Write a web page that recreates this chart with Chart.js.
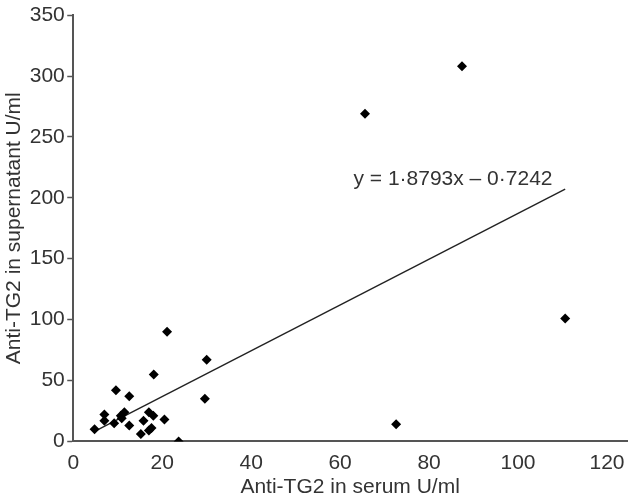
<!DOCTYPE html>
<html>
<head>
<meta charset="utf-8">
<script src="https://cdn.jsdelivr.net/npm/chart.js@4/dist/chart.umd.min.js"></script>
<style>
  html, body { margin: 0; padding: 0; background: #fff; }
  #wrap { width: 632px; height: 502px; }
</style>
</head>
<body>
<div id="wrap"><canvas id="c" width="632" height="502"></canvas></div>
<script>
// Anti-TG2 in serum (x) vs supernatant (y), U/ml
const serumValues = [87.4, 65.6, 110.6, 72.6, 23.7, 21.1, 30.0, 29.6, 18.1, 9.6, 12.6, 7.0, 7.0, 4.8, 9.2, 10.7, 11.5, 10.9, 12.6, 15.8, 17.0, 18.0, 15.2, 17.0, 17.6, 20.5];
const supernatantValues = [308, 269, 101, 14, 0, 90, 67, 35, 55, 42, 37, 22, 17, 10, 15, 21, 24, 19, 13, 17, 24, 21, 6, 9, 11, 18];
const xTickLabels = [0, 20, 40, 60, 80, 100, 120];
const yTickLabels = [0, 50, 100, 150, 200, 250, 300, 350];
const regressionSlope = 1.8793;
const regressionIntercept = -0.7242;
const equationText = 'y = 1\u00B78793x \u2013 0\u00B77242';

const points = serumValues.map((x, i) => ({ x: x, y: supernatantValues[i] }));
const xMin = Math.min(...serumValues), xMax = Math.max(...serumValues);
const fitLine = [xMin, xMax].map(x => ({ x: x, y: regressionSlope * x + regressionIntercept }));

const FONT_FAMILY = '"Liberation Sans", Arial, sans-serif';
const font = { family: FONT_FAMILY, size: 21 };
const xTickFont = { family: FONT_FAMILY, size: 21, lineHeight: 1 };

const equationPlugin = {
  id: 'equation',
  afterDatasetsDraw(chart) {
    const { ctx, scales } = chart;
    const px = scales.x.getPixelForValue(63);
    const py = scales.y.getPixelForValue(215);
    ctx.save();
    ctx.font = '21px ' + FONT_FAMILY;
    ctx.fillStyle = '#333';
    ctx.textAlign = 'left';
    ctx.textBaseline = 'middle';
    ctx.fillText(equationText, px, py);
    ctx.restore();
  }
};

new Chart(document.getElementById('c'), {
  type: 'scatter',
  data: {
    datasets: [
      {
        type: 'line',
        data: fitLine,
        borderColor: '#222',
        borderWidth: 1.4,
        pointRadius: 0,
        fill: false,
        order: 2
      },
      {
        data: points,
        pointStyle: 'rectRot',
        pointRadius: 5,
        pointBackgroundColor: '#000',
        pointBorderColor: '#000',
        pointBorderWidth: 0,
        order: 1
      }
    ]
  },
  options: {
    responsive: false,
    animation: false,
    layout: { padding: { top: 2, right: 0, left: 2, bottom: 2 } },
    plugins: { legend: { display: false }, tooltip: { enabled: false } },
    scales: {
      x: {
        type: 'linear',
        min: 0,
        max: 124.5,
        afterBuildTicks(scale) { scale.ticks = xTickLabels.map(v => ({ value: v })); },
        afterFit(scale) { scale.paddingRight = 0; },
        ticks: { font: xTickFont, color: '#333', padding: 11.5, maxRotation: 0 },
        grid: { display: true, drawOnChartArea: false, drawTicks: false, color: '#555' },
        border: { color: '#555', width: 2 },
        title: { display: true, text: 'Anti-TG2 in serum U/ml', font: font, color: '#333', padding: { top: -10.6, bottom: 0 } }
      },
      y: {
        min: 0,
        max: 350,
        afterBuildTicks(scale) { scale.ticks = yTickLabels.map(v => ({ value: v })); },
        ticks: { font: font, color: '#333', padding: 2.5 },
        grid: { display: true, drawOnChartArea: false, drawTicks: true, tickLength: 6, tickWidth: 1.5, tickColor: '#555', color: '#555' },
        border: { color: '#555', width: 2 },
        title: { display: true, text: 'Anti-TG2 in supernatant U/ml', font: font, color: '#333', padding: { top: 0, bottom: 0 } }
      }
    }
  },
  plugins: [equationPlugin]
});
</script>
</body>
</html>
